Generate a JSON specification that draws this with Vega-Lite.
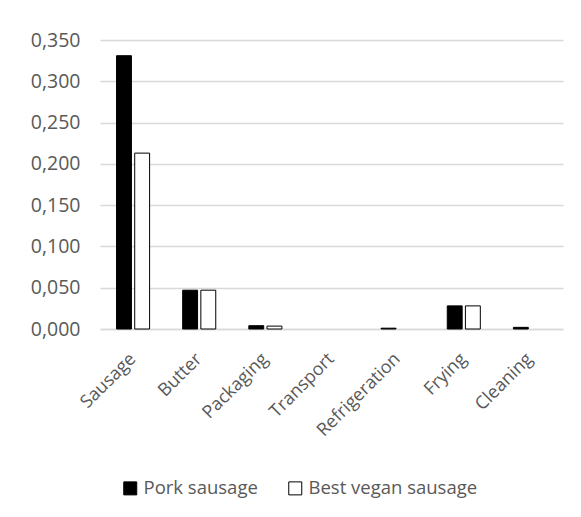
{
  "$schema": "https://vega.github.io/schema/vega-lite/v6.json",
  "width": 463,
  "height": 289,
  "autosize": {"type": "none"},
  "padding": {"left": 100, "top": 40, "right": 18, "bottom": 188},
  "background": "white",
  "data": {
    "values": [
      {"stage": "Sausage", "product": "Pork sausage", "value": 0.331},
      {"stage": "Sausage", "product": "Best vegan sausage", "value": 0.213},
      {"stage": "Butter", "product": "Pork sausage", "value": 0.047},
      {"stage": "Butter", "product": "Best vegan sausage", "value": 0.047},
      {"stage": "Packaging", "product": "Pork sausage", "value": 0.004},
      {"stage": "Packaging", "product": "Best vegan sausage", "value": 0.0035},
      {"stage": "Transport", "product": "Pork sausage", "value": 0},
      {"stage": "Transport", "product": "Best vegan sausage", "value": 0},
      {"stage": "Refrigeration", "product": "Pork sausage", "value": 0.001},
      {"stage": "Refrigeration", "product": "Best vegan sausage", "value": 0},
      {"stage": "Frying", "product": "Pork sausage", "value": 0.028},
      {"stage": "Frying", "product": "Best vegan sausage", "value": 0.028},
      {"stage": "Cleaning", "product": "Pork sausage", "value": 0.002},
      {"stage": "Cleaning", "product": "Best vegan sausage", "value": 0}
    ]
  },
  "mark": {"type": "bar", "strokeWidth": 1},
  "encoding": {
    "x": {
      "field": "stage",
      "type": "nominal",
      "sort": ["Sausage", "Butter", "Packaging", "Transport", "Refrigeration", "Frying", "Cleaning"],
      "scale": {"paddingInner": 0.5, "paddingOuter": 0.25},
      "axis": {
        "title": null,
        "labelAngle": -45,
        "labelAlign": "right",
        "labelBaseline": "middle",
        "labelFont": "Open Sans",
        "labelFontSize": 18,
        "labelColor": "#595959",
        "labelPadding": 27,
        "labelLimit": 0,
        "ticks": false,
        "domainColor": "#d9d9d9",
        "domainWidth": 1.5
      }
    },
    "xOffset": {
      "field": "product",
      "type": "nominal",
      "sort": ["Pork sausage", "Best vegan sausage"],
      "scale": {"paddingInner": 0.18}
    },
    "y": {
      "field": "value",
      "type": "quantitative",
      "scale": {"domain": [0, 0.35], "nice": false},
      "axis": {
        "title": null,
        "values": [0, 0.05, 0.1, 0.15, 0.2, 0.25, 0.3, 0.35],
        "labelExpr": "replace(format(datum.value, '.3f'), '.', ',')",
        "labelFont": "Open Sans",
        "labelFontSize": 19.5,
        "labelColor": "#595959",
        "labelPadding": 20,
        "ticks": false,
        "domain": false,
        "gridColor": "#d9d9d9",
        "gridWidth": 1.5
      }
    },
    "stroke": {
      "condition": {"test": "datum.value == 0", "value": null},
      "value": "black"
    },
    "fill": {
      "field": "product",
      "type": "nominal",
      "sort": ["Pork sausage", "Best vegan sausage"],
      "scale": {"domain": ["Pork sausage", "Best vegan sausage"], "range": ["black", "white"]},
      "legend": {
        "title": null,
        "orient": "none",
        "direction": "horizontal",
        "legendX": 21,
        "legendY": 439,
        "symbolType": "square",
        "symbolSize": 169,
        "symbolStrokeColor": "black",
        "symbolStrokeWidth": 1,
        "labelFont": "Open Sans",
        "labelFontSize": 18.5,
        "labelColor": "#595959",
        "labelOffset": 4,
        "labelLimit": 0,
        "columnPadding": 28
      }
    }
  },
  "config": {
    "view": {"stroke": null}
  }
}
